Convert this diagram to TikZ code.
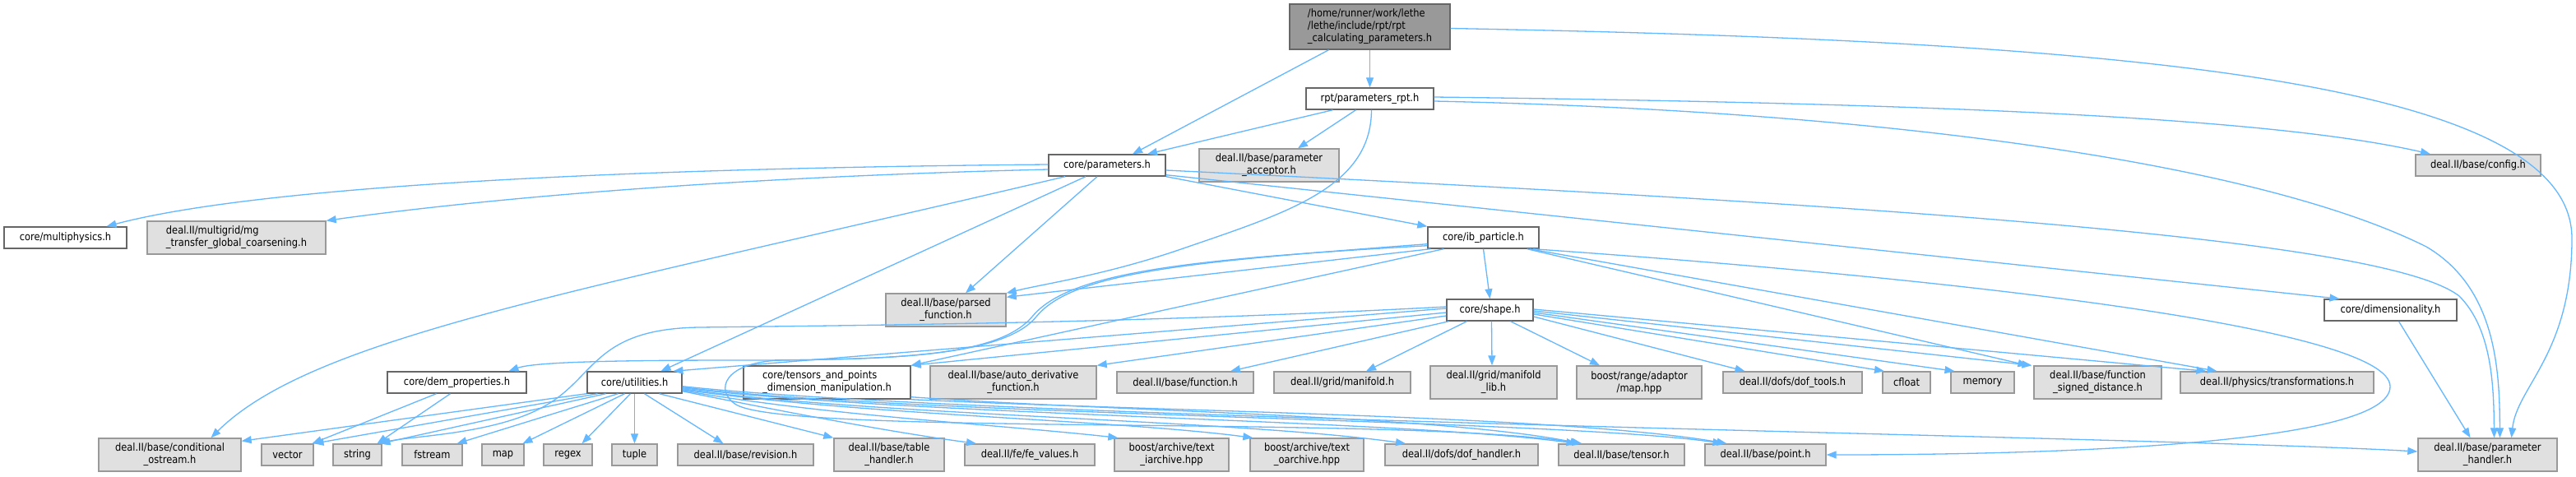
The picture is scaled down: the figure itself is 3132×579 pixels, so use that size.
\documentclass[tikz,border=0pt]{standalone}
\usepackage{fontspec}
\setmainfont{DejaVu Sans}[FakeStretch=0.88]
\usetikzlibrary{arrows.meta}
\definecolor{edgec}{HTML}{63B8FF}
\definecolor{grayfill}{HTML}{E0E0E0}
\definecolor{graydraw}{HTML}{999999}
\definecolor{darkdraw}{HTML}{666666}
\definecolor{rootfill}{HTML}{999999}
\newcommand\bx[6]{\node[#1,minimum width=#4pt,minimum height=#5pt] (#2) at (#3) {#6};}
\begin{document}
\begin{tikzpicture}[x=1pt,y=-1pt,
 base/.style={rectangle, inner sep=0pt, line width=1.4pt, font=\fontsize{13}{15}\selectfont, align=center},
 wbox/.style={base, fill=white, draw=darkdraw},
 gbox/.style={base, fill=grayfill, draw=graydraw},
 rbox/.style={base, fill=rootfill, draw=darkdraw},
 e/.style={draw=edgec, line width=1.3pt, -{Triangle[length=12pt,width=9pt]}}]
\fill[white] (0,0) rectangle (3132,579);
\useasboundingbox (0,0) rectangle (3132,579);

\bx{rbox,align=left}{root}{1665.5,32.5}{195}{55}{/home/runner/work/lethe\\/lethe/include/rpt/rpt\\\_calculating\_parameters.h}
\bx{wbox}{rpt}{1665.5,120}{155}{26}{rpt/parameters\_rpt.h}
\bx{wbox}{params}{1346,201}{142}{26}{core/parameters.h}
\bx{gbox}{acceptor}{1543,201}{170}{40}{deal.II/base/parameter\\\_acceptor.h}
\bx{gbox}{config}{3013,201}{152}{26}{deal.II/base/config.h}
\bx{wbox}{multiphysics}{79.5,289}{149}{26}{core/multiphysics.h}
\bx{gbox,align=left}{mg}{287.5,289}{217}{40}{deal.II/multigrid/mg\\\_transfer\_global\_coarsening.h}
\bx{wbox}{ib}{1803.5,289}{135}{26}{core/ib\_particle.h}
\bx{gbox}{parsed}{1150,377}{146}{40}{deal.II/base/parsed\\\_function.h}
\bx{wbox}{shape}{1811.5,377}{105}{26}{core/shape.h}
\bx{wbox}{dim}{2906.5,377}{161}{26}{core/dimensionality.h}
\bx{wbox}{dem}{555.5,465}{169}{26}{core/dem\_properties.h}
\bx{wbox}{util}{771.5,465}{115}{26}{core/utilities.h}
\bx{wbox,align=left}{tensors}{1005.5,465}{203}{40}{core/tensors\_and\_points\\\_dimension\_manipulation.h}
\bx{gbox}{autod}{1232,465}{202}{40}{deal.II/base/auto\_derivative\\\_function.h}
\bx{gbox}{func}{1441,465}{166}{26}{deal.II/base/function.h}
\bx{gbox}{manif}{1632,465}{166}{26}{deal.II/grid/manifold.h}
\bx{gbox}{maniflib}{1816,465}{154}{40}{deal.II/grid/manifold\\\_lib.h}
\bx{gbox}{bmap}{1993,465}{152}{40}{boost/range/adaptor\\/map.hpp}
\bx{gbox}{doft}{2179.5,465}{169}{26}{deal.II/dofs/dof\_tools.h}
\bx{gbox}{cfloat}{2318,465}{58}{26}{cfloat}
\bx{gbox}{memory}{2410.5,465}{77}{26}{memory}
\bx{gbox}{fsd}{2550.5,465}{155}{40}{deal.II/base/function\\\_signed\_distance.h}
\bx{gbox}{transf}{2768.5,465}{235}{26}{deal.II/physics/transformations.h}
\bx{gbox}{cond}{206.5,553}{173}{40}{deal.II/base/conditional\\\_ostream.h}
\bx{gbox}{vector}{349.5,553}{63}{26}{vector}
\bx{gbox}{string}{434.5,553}{59}{26}{string}
\bx{gbox}{fstream}{525.5,553}{73}{26}{fstream}
\bx{gbox}{stdmap}{611.5,553}{51}{26}{map}
\bx{gbox}{regex}{690.5,553}{59}{26}{regex}
\bx{gbox}{tuple}{771.5,553}{55}{26}{tuple}
\bx{gbox}{revision}{906.5,553}{165}{26}{deal.II/base/revision.h}
\bx{gbox}{table}{1081,553}{134}{40}{deal.II/base/table\\\_handler.h}
\bx{gbox}{fev}{1252,553}{158}{26}{deal.II/fe/fe\_values.h}
\bx{gbox}{iarch}{1424.5,553}{139}{40}{boost/archive/text\\\_iarchive.hpp}
\bx{gbox}{oarch}{1589,553}{138}{40}{boost/archive/text\\\_oarchive.hpp}
\bx{gbox}{dofh}{1777,553}{186}{26}{deal.II/dofs/dof\_handler.h}
\bx{gbox}{tensor}{1971.5,553}{153}{26}{deal.II/base/tensor.h}
\bx{gbox}{point}{2146.5,553}{147}{26}{deal.II/base/point.h}
\bx{gbox}{ph}{3024.5,553}{169}{40}{deal.II/base/parameter\\\_handler.h}

% root
\draw[e] ([xshift=-50pt]root.south) -- ([xshift=31pt]params.north);
\draw[e] (root.south) -- (rpt.north);
\draw[e] ([yshift=-2pt]root.east) .. controls (2600,50) and (3127,100) .. (3127,290) .. controls (3127,430) and (3060,470) .. ([xshift=29pt]ph.north);
% rpt
\draw[e] ([xshift=-45pt]rpt.south) -- ([xshift=49pt]params.north);
\draw[e] ([xshift=-17pt]rpt.south) -- ([xshift=35pt]acceptor.north);
\draw[e] ([yshift=2pt]rpt.east) .. controls (2300,125) and (2750,140) .. ([xshift=-58pt]config.north);
\draw[e] ([yshift=-3pt]rpt.east) .. controls (2300,135) and (2750,200) .. (2950,300) .. controls (3035,350) and (3039,450) .. ([xshift=15pt]ph.north);
\draw[e] ([xshift=2pt]rpt.south) .. controls (1667,230) and (1560,260) .. (1430,305) .. controls (1340,335) and (1270,345) .. (parsed.north east);
% core/parameters.h
\draw[e] ([yshift=1pt]params.west) .. controls (700,205) and (300,230) .. ([xshift=50pt]multiphysics.north);
\draw[e] ([yshift=-5pt]params.west) .. controls (900,215) and (600,240) .. (mg.north east);
\draw[e] ([xshift=-51pt]params.south) .. controls (700,355) and (380,410) .. ([xshift=50pt]cond.north);
\draw[e] ([xshift=-26pt]params.south) -- ([xshift=32pt]util.north);
\draw[e] ([xshift=-12pt]params.south) -- ([xshift=24pt]parsed.north);
\draw[e] (params.south east) -- (ib.north west);
\draw[e] ([yshift=2pt]params.south east) -- ([xshift=-62pt]dim.north);
\draw[e] ([yshift=-6pt]params.east) .. controls (2300,250) and (2900,290) .. (2990,360) .. controls (3030,400) and (3032,470) .. ([xshift=8pt]ph.north);
% ib_particle
\draw[e] (ib.south) -- (shape.north);
\draw[e] ([xshift=4pt]ib.south west) -- ([yshift=-5pt]parsed.north east);
\draw[e] ([yshift=4pt]ib.south west) .. controls (1450,315) and (1300,330) .. (1255,385) .. controls (1215,432) and (1100,438) .. (900,438) .. controls (750,438) and (650,440) .. ([xshift=63pt]dem.north);
\draw[e] ([yshift=6pt]ib.south west) .. controls (1450,318) and (1305,330) .. (1260,385) .. controls (1220,434) and (1080,436) .. (950,438) .. controls (880,440) and (868,475) .. (895,492) .. controls (960,530) and (1700,505) .. ([xshift=-48pt]tensor.north);
\draw[e] ([xshift=20pt]ib.south west) -- (tensors.north east);
\draw[e] ([xshift=-15pt]ib.south east) -- ([xshift=-85pt]fsd.north);
\draw[e] ([xshift=-12pt]ib.south east) -- ([xshift=-73pt]transf.north);
\draw[e] ([xshift=-8pt]ib.south east) .. controls (2400,340) and (2906,400) .. (2906,470) .. controls (2906,540) and (2500,553) .. (point.east);
% shape
\draw[e] ([yshift=-3pt]shape.west) -- (tensors.north east);
\draw[e] ([yshift=-7pt]shape.west) -- (autod.north east);
\draw[e] ([xshift=-50pt]shape.south) -- ([xshift=55pt]func.north);
\draw[e] ([xshift=-28pt]shape.south) -- ([xshift=29pt]manif.north);
\draw[e] ([xshift=2pt]shape.south) -- ([xshift=-2pt]maniflib.north);
\draw[e] ([xshift=25pt]shape.south) -- ([xshift=-48pt]bmap.north);
\draw[e] ([yshift=-8pt]shape.east) -- ([xshift=-58pt]doft.north);
\draw[e] ([yshift=-5pt]shape.east) -- ([xshift=-27pt]cfloat.north);
\draw[e] ([yshift=-3pt]shape.east) -- ([xshift=-34pt]memory.north);
\draw[e] ([yshift=-1pt]shape.east) -- ([xshift=-80pt]fsd.north);
\draw[e] ([yshift=1pt]shape.east) -- ([xshift=-86pt]transf.north);
\draw[e] ([yshift=2pt]shape.west) -- ([xshift=47pt]util.north);
\draw[e] ([yshift=4pt]shape.west) .. controls (1400,392) and (1100,395) .. (850,398) .. controls (720,400) and (725,460) .. (660,495) .. controls (600,528) and (500,530) .. ([xshift=26pt]string.north);
% dem_properties
\draw[e] ([xshift=-25pt]dem.south) -- ([xshift=30pt]vector.north);
\draw[e] ([xshift=-8pt]dem.south) -- ([xshift=24pt]string.north);
% utilities
\draw[e] (util.south west) -- ([yshift=-4pt]cond.north east);
\draw[e] ([xshift=-45pt]util.south) -- ([xshift=32pt]vector.north);
\draw[e] ([xshift=-35pt]util.south) -- ([xshift=28pt]string.north);
\draw[e] ([xshift=-20pt]util.south) -- ([xshift=30pt]fstream.north);
\draw[e] ([xshift=-12pt]util.south) -- ([xshift=24pt]stdmap.north);
\draw[e] ([xshift=-5pt]util.south) -- ([xshift=17pt]regex.north);
\draw[e] (util.south) -- (tuple.north);
\draw[e] ([xshift=12pt]util.south) -- ([xshift=-27pt]revision.north);
\draw[e] ([xshift=30pt]util.south) -- (table.north west);
\draw[e] ([yshift=3pt]util.south east) .. controls (950,500) and (1080,525) .. ([xshift=-65pt]fev.north);
\draw[e] ([yshift=4pt]util.south east) .. controls (1000,505) and (1200,515) .. ([xshift=5pt]iarch.north west);
\draw[e] ([yshift=5pt]util.south east) .. controls (1050,505) and (1350,510) .. ([xshift=4pt]oarch.north west);
\draw[e] ([yshift=6pt]util.south east) .. controls (1050,505) and (1500,510) .. ([xshift=-68pt]dofh.north);
\draw[e] ([yshift=7pt]util.south east) .. controls (1100,505) and (1700,510) .. ([xshift=-55pt]tensor.north);
\draw[e] ([yshift=8pt]util.south east) .. controls (1100,505) and (1900,510) .. ([xshift=-52pt]point.north);
\draw[e] ([yshift=9pt]util.south east) .. controls (1200,510) and (2600,530) .. ([yshift=4pt]ph.west);
% tensors_and_points
\draw[e] (tensors.south east) .. controls (1400,500) and (1900,505) .. ([xshift=-47pt]point.north);
\draw[e] ([yshift=3pt]tensors.south east) .. controls (1350,500) and (1750,505) .. ([xshift=-50pt]tensor.north);
% dimensionality
\draw[e] ([xshift=10pt]dim.south) -- ([xshift=-21pt]ph.north);
\end{tikzpicture}
\end{document}
